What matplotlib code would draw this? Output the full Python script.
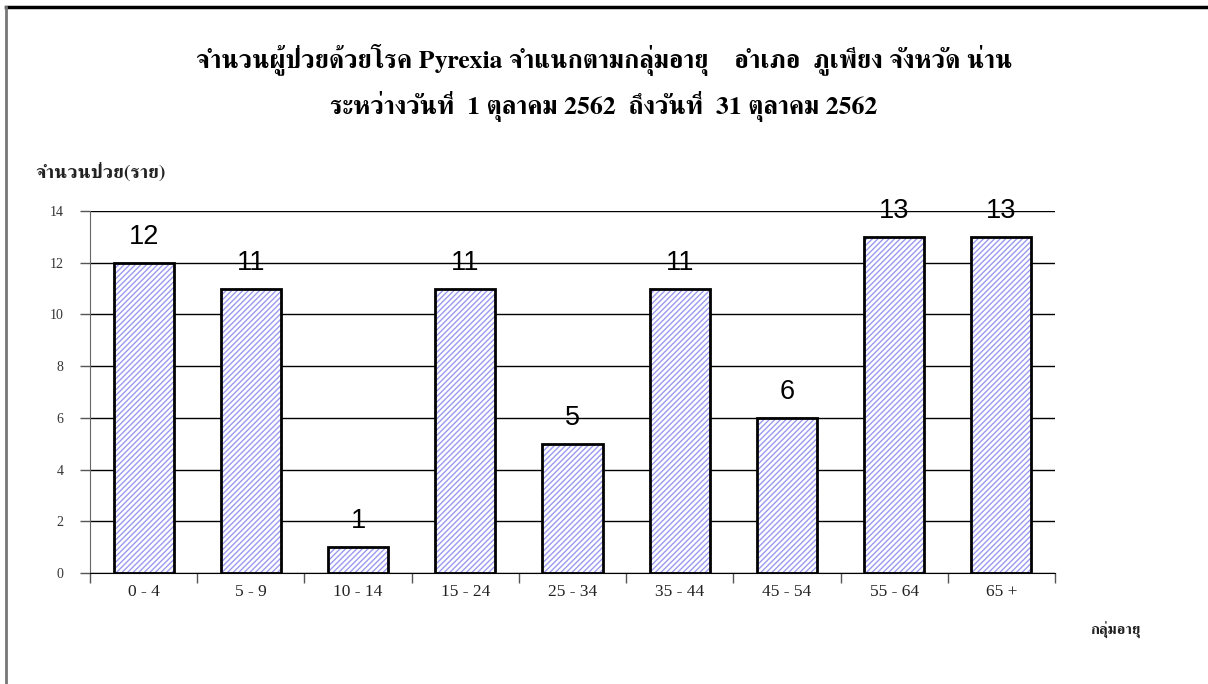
import matplotlib
matplotlib.use("Agg")
import matplotlib.pyplot as plt
from matplotlib import font_manager
from matplotlib.ft2font import FT2Font

# data
age_groups = ["0 - 4", "5 - 9", "10 - 14", "15 - 24", "25 - 34",
              "35 - 44", "45 - 54", "55 - 64", "65 +"]
patients = [12, 11, 1, 11, 5, 11, 6, 13, 13]
y_ticks = [0, 2, 4, 6, 8, 10, 12, 14]

title1 = "จำนวนผู้ป่วยด้วยโรค Pyrexia จำแนกตามกลุ่มอายุ    อำเภอ  ภูเพียง จังหวัด น่าน"
title2 = "ระหว่างวันที่  1 ตุลาคม 2562  ถึงวันที่  31 ตุลาคม 2562"
ylabel = "จำนวนป่วย(ราย)"
xlabel = "กลุ่มอายุ"


# find a font that has Thai glyphs (serif ones first)
def thai_font():
    found = []
    for f in font_manager.fontManager.ttflist:
        try:
            cm = FT2Font(f.fname).get_charmap()
        except Exception:
            continue
        if 0x0E08 in cm and 0x0E33 in cm:
            found.append(f.name)
    found = sorted(set(found), key=lambda n: ("Serif" not in n, n))
    return found


thai = thai_font()
fam = (thai[:1]) + ["Liberation Serif", "DejaVu Sans"]

fig = plt.figure(figsize=(12.08, 6.84), dpi=100)
ax = fig.add_axes([90 / 1208, 111 / 684, 965 / 1208, 362 / 684])

x = range(len(age_groups))
plt.rcParams["hatch.linewidth"] = 1.0
ax.bar(x, patients, width=0.56, color="white", edgecolor="#9a9af0",
       hatch="//////", linewidth=0, zorder=2)
ax.bar(x, patients, width=0.56, fill=False, edgecolor="black",
       linewidth=2, zorder=3)

for i, v in enumerate(patients):
    ax.text(i, v + 1.0, str(v), ha="center", va="center",
            fontsize=19.5, family="Liberation Sans", zorder=4)

ax.set_xlim(-0.5, len(age_groups) - 0.5)
ax.set_ylim(0, 14)
ax.set_yticks(y_ticks)
ax.set_yticklabels([str(t) for t in y_ticks], family="Liberation Serif",
                   fontsize=10, color="#333333")
ax.yaxis.grid(True, color="black", linewidth=1, zorder=0)
ax.set_axisbelow(True)
ax.tick_params(axis="y", length=7, width=1, color="#555555", pad=12)

ax.set_xticks(list(x))
ax.set_xticklabels(age_groups, family="Liberation Serif", fontsize=12.5,
                   color="#222222")
ax.set_xticks([i - 0.5 for i in range(len(age_groups) + 1)], minor=True)
ax.tick_params(axis="x", which="major", length=0, pad=8)
ax.tick_params(axis="x", which="minor", length=7, width=1, color="#555555")

for s in ["top", "right"]:
    ax.spines[s].set_visible(False)
ax.spines["left"].set_color("#666666")
ax.spines["bottom"].set_color("black")

fig.text(0.5, 1 - 60 / 684, title1, ha="center", va="center",
         fontsize=18.5, fontweight="bold", family=fam)
fig.text(0.5, 1 - 107 / 684, title2, ha="center", va="center",
         fontsize=18.5, fontweight="bold", family=fam)
fig.text(35 / 1208, 1 - 172 / 684, ylabel, ha="left", va="center",
         fontsize=14, fontweight="bold", family=fam, color="#222222")
fig.text(1090 / 1208, 1 - 630 / 684, xlabel, ha="left", va="center",
         fontsize=11, fontweight="bold", family=fam, color="#222222")

# outer frame (top and left only)
fig.add_artist(plt.Line2D([6 / 1208, 1], [1 - 7 / 684, 1 - 7 / 684],
                          color="black", linewidth=2.5))
fig.add_artist(plt.Line2D([6 / 1208, 6 / 1208], [0, 1 - 7 / 684],
                          color="#777777", linewidth=2))

fig.savefig("out.png", dpi=100)
